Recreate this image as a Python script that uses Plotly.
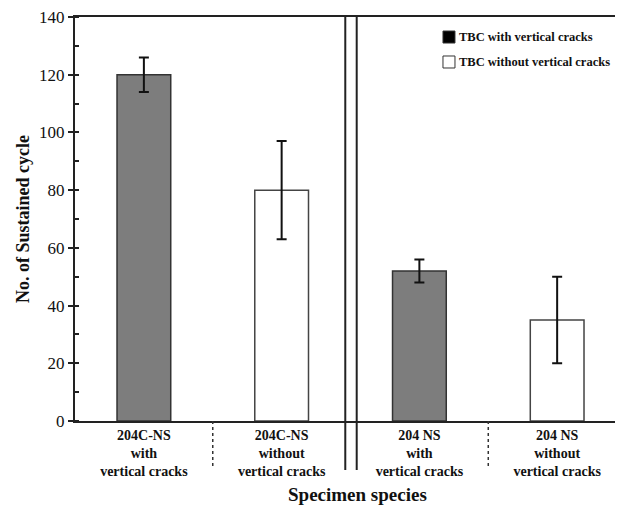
import plotly.graph_objects as go

categories = ["204C-NS<br>with<br>vertical cracks",
              "204C-NS<br>without<br>vertical cracks",
              "204 NS<br>with<br>vertical cracks",
              "204 NS<br>without<br>vertical cracks"]
cat_pos = [0, 1, 2, 3]
with_pos = [0, 2]
with_vals = [120, 52]
with_err = [6, 4]
without_pos = [1, 3]
without_vals = [80, 35]
without_err = [17, 15]
y_ticks = [0, 20, 40, 60, 80, 100, 120, 140]
legend_names = ["TBC with vertical cracks", "TBC without vertical cracks"]

FONT = "Liberation Serif"
LINE = "#222222"
TXT = "#111111"

fig = go.Figure()
fig.add_trace(go.Bar(
    x=with_pos, y=with_vals, width=0.39, name=legend_names[0],
    marker=dict(color="#7d7d7d", line=dict(color="#333333", width=1.5)),
    error_y=dict(type="data", array=with_err, color="#111111", thickness=2, width=5),
    showlegend=False))
fig.add_trace(go.Bar(
    x=without_pos, y=without_vals, width=0.39, name=legend_names[1],
    marker=dict(color="white", line=dict(color="#444444", width=1.5)),
    error_y=dict(type="data", array=without_err, color="#111111", thickness=2, width=5),
    showlegend=False))

shapes = []
# dotted separators
for xs in [0.5, 2.5]:
    shapes.append(dict(type="line", xref="x", yref="paper", x0=xs, x1=xs, y0=0, y1=-0.116,
                       line=dict(color="#333333", width=1.5, dash="dot")))
# double solid separator
for xs in [1.462, 1.545]:
    shapes.append(dict(type="line", xref="x", yref="paper", x0=xs, x1=xs, y0=1, y1=-0.121,
                       line=dict(color=LINE, width=2)))

# hand-drawn legend (black / white swatches)
leg_y = [(0.9653, 0.9356), (0.9035, 0.8738)]
leg_fill = ["black", "white"]
annotations = []
for (ya, yb), fill, name in zip(leg_y, leg_fill, legend_names):
    shapes.append(dict(type="rect", xref="paper", yref="paper", x0=0.6715, x1=0.6934,
                       y0=yb, y1=ya, fillcolor=fill, line=dict(color="#333333", width=1)))
    annotations.append(dict(text="<b>" + name + "</b>", xref="paper", yref="paper",
                            x=0.697, y=(ya + yb) / 2, xanchor="left", yanchor="middle",
                            showarrow=False, font=dict(family=FONT, size=12.5, color=TXT)))

annotations += [
    dict(text="<b>No. of Sustained cycle</b>", xref="paper", yref="paper",
         x=-0.0949, y=0.5, xanchor="center", yanchor="middle", textangle=-90, showarrow=False,
         font=dict(family=FONT, size=18, color=TXT)),
    dict(text="<b>Specimen species</b>", xref="paper", yref="paper",
         x=0.5146, y=-0.181, yanchor="middle", showarrow=False,
         font=dict(family=FONT, size=19, color=TXT)),
]

fig.update_layout(
    width=615, height=499,
    margin=dict(l=67, r=0, t=9, b=86, autoexpand=False),
    plot_bgcolor="white", paper_bgcolor="white",
    barmode="overlay",
    font=dict(family=FONT, color=TXT),
    shapes=shapes,
    annotations=annotations,
    showlegend=False,
    xaxis=dict(range=[-0.5, 3.478], tickvals=cat_pos,
               ticktext=["<b>" + c + "</b>" for c in categories],
               tickfont=dict(family=FONT, size=14, color=TXT),
               showline=True, linecolor=LINE, linewidth=2, mirror=True,
               ticks="", showgrid=False, zeroline=False, automargin=False),
    yaxis=dict(range=[0, 140], tickvals=y_ticks,
               tickfont=dict(family=FONT, size=17, color=TXT),
               ticklabeloverflow="allow",
               showline=True, linecolor=LINE, linewidth=2, mirror=False,
               ticks="outside", ticklen=5, tickwidth=2, tickcolor=LINE,
               minor=dict(dtick=10, ticks="inside", ticklen=4, tickwidth=2, tickcolor=LINE),
               showgrid=False, zeroline=False, automargin=False),
)

fig.write_html("out.html")
